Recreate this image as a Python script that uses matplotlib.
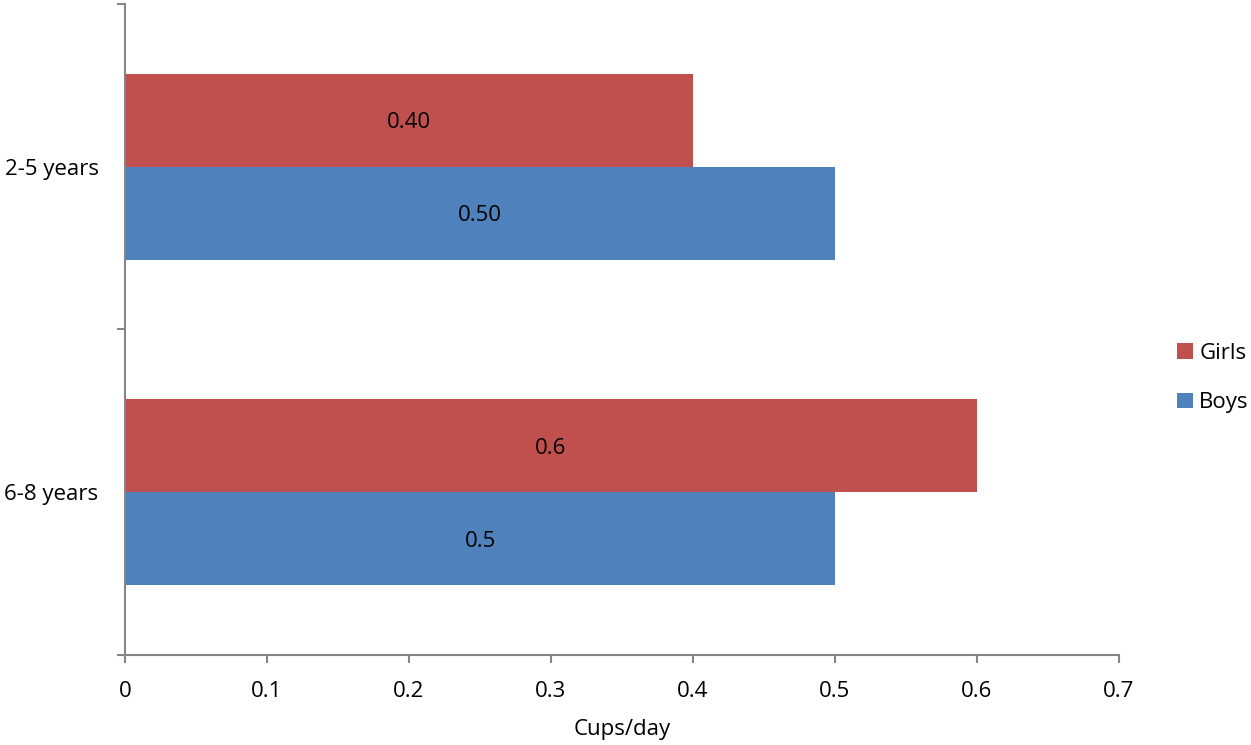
import numpy as np
import matplotlib.pyplot as plt

# Data
categories = ["2-5 years", "6-8 years"]
girls = [0.40, 0.6]
boys = [0.50, 0.5]
girls_labels = ["0.40", "0.6"]
boys_labels = ["0.50", "0.5"]
xticks = [0, 0.1, 0.2, 0.3, 0.4, 0.5, 0.6, 0.7]

girls_color = "#C0504D"
boys_color = "#4F81BD"
axis_color = "#868686"

plt.rcParams["font.family"] = ["Open Sans", "DejaVu Sans"]
plt.rcParams["font.size"] = 16

fig = plt.figure(figsize=(12.51, 7.45), dpi=100)
ax = fig.add_axes([125 / 1251, 1 - 655 / 745, (1119 - 125) / 1251, (655 - 4) / 745])

y = np.arange(len(categories))
h = 0.286
gb = ax.barh(y - h / 2, girls, height=h, color=girls_color, label="Girls")
bb = ax.barh(y + h / 2, boys, height=h, color=boys_color, label="Boys")

for bars, labels in [(gb, girls_labels), (bb, boys_labels)]:
    for rect, lab in zip(bars, labels):
        ax.text(rect.get_width() / 2, rect.get_y() + rect.get_height() / 2, lab,
                ha="center", va="center_baseline", fontsize=16, color="black")

ax.set_xlim(0, 0.7)
ax.set_ylim(1.5, -0.5)

ax.set_xticks(xticks)
ax.set_xticklabels([f"{t:g}" for t in xticks])
ax.set_yticks([-0.5, 0.5, 1.5])
ax.set_yticklabels([])
ax.set_yticks(y, minor=True)
ax.set_yticklabels(categories, minor=True)

ax.tick_params(axis="x", direction="out", length=6, width=1.5, color=axis_color, pad=13, labelsize=16)
ax.tick_params(axis="y", which="major", direction="out", length=6, width=1.5, color=axis_color)
ax.tick_params(axis="y", which="minor", length=0, pad=19, labelsize=16)

for side in ["top", "right"]:
    ax.spines[side].set_visible(False)
for side in ["left", "bottom"]:
    ax.spines[side].set_color(axis_color)
    ax.spines[side].set_linewidth(1.5)

ax.set_xlabel("Cups/day", fontsize=16, labelpad=12)

fig.legend(handles=[gb, bb], loc="center left", bbox_to_anchor=(1177 / 1251, 1 - 378 / 745),
           frameon=False, fontsize=16, handlelength=0.7, handleheight=0.7,
           handletextpad=0.3, labelspacing=1.3, borderpad=0, borderaxespad=0)

plt.savefig("out.png", dpi=100)
